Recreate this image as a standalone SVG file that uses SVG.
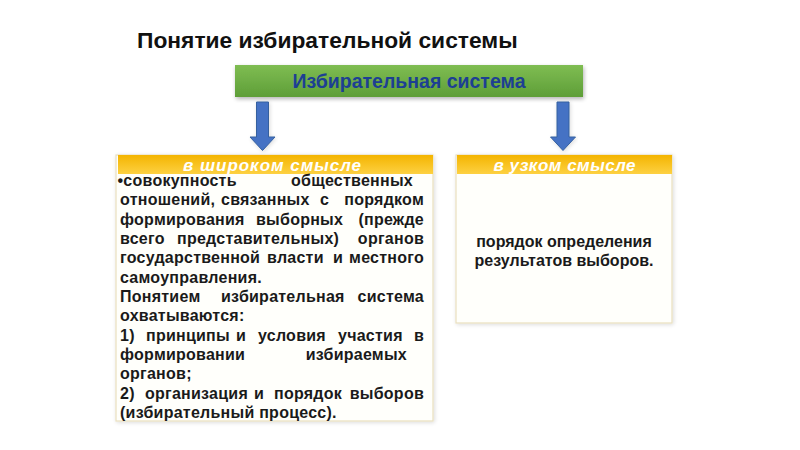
<svg xmlns="http://www.w3.org/2000/svg" width="800" height="450" viewBox="0 0 800 450">
  <defs>
    <linearGradient id="gGreen" x1="0" y1="0" x2="0" y2="1">
      <stop offset="0" stop-color="#7fbd52"/>
      <stop offset="1" stop-color="#5e9e38"/>
    </linearGradient>
    <linearGradient id="gGold" x1="0" y1="0" x2="0" y2="1">
      <stop offset="0" stop-color="#f4b400"/>
      <stop offset="1" stop-color="#fdd142"/>
    </linearGradient>
    <filter id="shadow" x="-10%" y="-20%" width="120%" height="150%">
      <feGaussianBlur in="SourceAlpha" stdDeviation="2"/>
      <feOffset dx="1" dy="2" result="b"/>
      <feComponentTransfer><feFuncA type="linear" slope="0.3"/></feComponentTransfer>
      <feMerge><feMergeNode/><feMergeNode in="SourceGraphic"/></feMerge>
    </filter>
    <filter id="softshadow" x="-10%" y="-10%" width="120%" height="120%">
      <feGaussianBlur in="SourceAlpha" stdDeviation="2"/>
      <feOffset dx="1" dy="1" result="b"/>
      <feComponentTransfer><feFuncA type="linear" slope="0.15"/></feComponentTransfer>
      <feMerge><feMergeNode/><feMergeNode in="SourceGraphic"/></feMerge>
    </filter>
  </defs>
  <style>
    text { font-family: "Liberation Sans", Arial, sans-serif; }
    .title { font-size: 22.8px; font-weight: bold; fill: #111; }
    .main { font-size: 19.5px; font-weight: bold; fill: #1d3f93; }
    .hdr { font-size: 17px; font-weight: bold; font-style: italic; fill: #ffffff; }
    .body { font-size: 16px; font-weight: bold; fill: #1a1a1a; letter-spacing: 0.25px; }
    .rbody { font-size: 16px; font-weight: bold; fill: #1a1a1a; }
    .panel { fill: #fffffb; stroke: #e9dfbf; stroke-width: 1.2; }
    .arrow { fill: #4472c4; stroke: #35609f; stroke-width: 1; }
  </style>
  <rect width="800" height="450" fill="#ffffff"/>

  <text class="title" x="137" y="48">Понятие избирательной системы</text>

  <g id="system">
    <rect x="235" y="65" width="348" height="32" fill="url(#gGreen)" filter="url(#shadow)"/>
    <text class="main" x="409" y="88" text-anchor="middle">Избирательная система</text>
  </g>

  <g id="connectors">
    <polygon class="arrow" points="256.5,102 268.5,102 268.5,137 275,137 262.5,150.5 250,137 256.5,137" filter="url(#softshadow)"/>
    <polygon class="arrow" points="557,102 569,102 569,137 575.5,137 563,150.5 550.5,137 557,137" filter="url(#softshadow)"/>
  </g>

  <g id="broad">
    <rect class="panel" x="116" y="155" width="317" height="266" filter="url(#softshadow)"/>
    <rect x="118" y="155" width="315" height="19" fill="url(#gGold)"/>
    <text class="hdr" x="272" y="170.5" text-anchor="middle" textLength="178" lengthAdjust="spacing">в широком смысле</text>
    <g class="body-text">
      <text class="body" x="117.5" y="186">•совокупность</text>
      <text class="body" x="413" y="186" text-anchor="end">общественных</text>

      <text class="body" x="120" y="205.3">отношений,</text>
      <text class="body" x="221" y="205.3">связанных</text>
      <text class="body" x="320" y="205.3">с</text>
      <text class="body" x="424" y="205.3" text-anchor="end">порядком</text>

      <text class="body" x="120" y="224.7">формирования</text>
      <text class="body" x="256" y="224.7">выборных</text>
      <text class="body" x="424" y="224.7" text-anchor="end">(прежде</text>

      <text class="body" x="120" y="244">всего</text>
      <text class="body" x="177" y="244">представительных)</text>
      <text class="body" x="424" y="244" text-anchor="end">органов</text>

      <text class="body" x="120" y="263.3">государственной</text>
      <text class="body" x="267" y="263.3">власти</text>
      <text class="body" x="333" y="263.3">и</text>
      <text class="body" x="424" y="263.3" text-anchor="end">местного</text>

      <text class="body" x="120" y="282.7">самоуправления.</text>

      <text class="body" x="120" y="302">Понятием</text>
      <text class="body" x="221" y="302">избирательная</text>
      <text class="body" x="424" y="302" text-anchor="end">система</text>

      <text class="body" x="120" y="321.3">охватываются:</text>

      <text class="body" x="120" y="340.7">1)</text>
      <text class="body" x="146" y="340.7">принципы</text>
      <text class="body" x="236" y="340.7">и</text>
      <text class="body" x="258" y="340.7">условия</text>
      <text class="body" x="338" y="340.7">участия</text>
      <text class="body" x="424" y="340.7" text-anchor="end">в</text>

      <text class="body" x="120" y="360">формировании</text>
      <text class="body" x="407" y="360" text-anchor="end">избираемых</text>

      <text class="body" x="120" y="379.3">органов;</text>

      <text class="body" x="120" y="398.7">2)</text>
      <text class="body" x="145" y="398.7">организация</text>
      <text class="body" x="254" y="398.7">и</text>
      <text class="body" x="274" y="398.7">порядок</text>
      <text class="body" x="424" y="398.7" text-anchor="end">выборов</text>

      <text class="body" x="120" y="418">(избирательный процесс).</text>
    </g>
  </g>

  <g id="narrow">
    <rect class="panel" x="456" y="155" width="216" height="168" filter="url(#softshadow)"/>
    <rect x="457" y="155" width="215" height="19" fill="url(#gGold)"/>
    <text class="hdr" x="564.5" y="170.5" text-anchor="middle" textLength="142" lengthAdjust="spacing">в узком смысле</text>
    <text class="rbody" x="564" y="247" text-anchor="middle">порядок определения</text>
    <text class="rbody" x="564" y="266" text-anchor="middle">результатов выборов.</text>
  </g>
</svg>
